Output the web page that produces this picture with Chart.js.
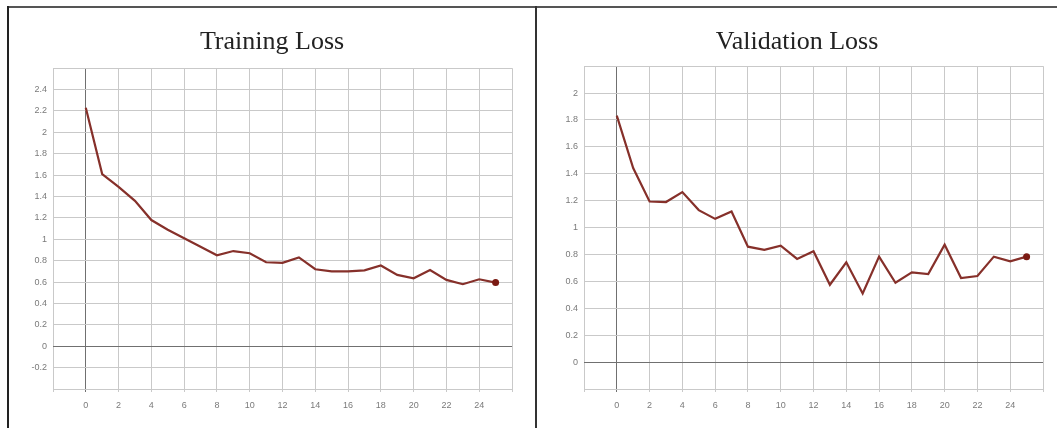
<!DOCTYPE html>
<html>
<head>
<meta charset="utf-8">
<script src="https://cdn.jsdelivr.net/npm/chart.js@4.4.1/dist/chart.umd.min.js"></script>
<style>
    html, body { margin: 0; padding: 0; background: #fff; }
    body { width: 1057px; height: 428px; position: relative; overflow: hidden; }
    .frame-top { position: absolute; left: 7px; top: 6px; width: 1050px; height: 2px; background: #555; }
    .frame-left { position: absolute; left: 7px; top: 6px; width: 2px; height: 422px; background: #222; }
    .frame-mid { position: absolute; left: 535px; top: 6px; width: 2px; height: 422px; background: #333; }
    .panel { position: absolute; top: 8px; height: 420px; }
    #panelTrain { left: 9px; width: 526px; }
    #panelVal { left: 537px; width: 520px; }
</style>
</head>
<body>
<div class="frame-top"></div>
<div class="frame-left"></div>
<div class="frame-mid"></div>
<div class="panel" id="panelTrain"><canvas id="trainChart"></canvas></div>
<div class="panel" id="panelVal"><canvas id="valChart"></canvas></div>

<script>
// --- data ---
const epochs = [0, 1, 2, 3, 4, 5, 6, 7, 8, 9, 10, 11, 12, 13, 14, 15, 16, 17, 18, 19, 20, 21, 22, 23, 24, 25];
const trainLoss = [2.23, 1.61, 1.49, 1.36, 1.18, 1.09, 1.01, 0.93, 0.85, 0.89, 0.87, 0.785, 0.78, 0.83, 0.72, 0.70, 0.70, 0.71, 0.755, 0.667, 0.635, 0.713, 0.62, 0.58, 0.626, 0.595];
const valLoss = [1.833, 1.443, 1.194, 1.19, 1.264, 1.13, 1.065, 1.12, 0.858, 0.834, 0.866, 0.767, 0.824, 0.575, 0.742, 0.51, 0.784, 0.59, 0.667, 0.655, 0.873, 0.625, 0.64, 0.784, 0.749, 0.784];
const xTicks = { min: -2, max: 26, step: 2 };
const trainYTicks = { min: -0.4, max: 2.6, step: 0.2 };
const valYTicks = { min: -0.2, max: 2.2, step: 0.2 };

const LINE_COLOR = '#86302a';
const GRID = '#c9c9c9';
const AXIS = '#707070';

function makeChart(id, title, values, yt, opts) {
    const points = epochs.map((e, i) => ({ x: e, y: values[i] }));
    const last = points.length - 1;
    return new Chart(document.getElementById(id).getContext('2d'), {
        type: 'line',
        data: {
            datasets: [{
                data: points,
                borderColor: LINE_COLOR,
                backgroundColor: '#7a1a12',
                borderWidth: 2.2,
                tension: 0,
                pointRadius: ctx => ctx.dataIndex === last ? 3.5 : 0,
                pointBorderWidth: 0
            }]
        },
        options: {
            responsive: true,
            maintainAspectRatio: false,
            animation: false,
            layout: { padding: 0 },
            plugins: {
                legend: { display: false },
                tooltip: { enabled: false },
                title: {
                    display: true,
                    text: title,
                    color: '#222',
                    font: { family: '"Liberation Serif", "DejaVu Serif", serif', size: 26, weight: 'normal' },
                    padding: { top: 19, bottom: opts.titleBottom }
                }
            },
            scales: {
                x: {
                    type: 'linear',
                    min: xTicks.min, max: xTicks.max,
                    border: { display: false },
                    grid: {
                        color: c => c.tick && c.tick.value === 0 ? AXIS : GRID,
                        lineWidth: 1,
                        tickLength: 3
                    },
                    ticks: {
                        stepSize: xTicks.step,
                        autoSkip: false,
                        maxRotation: 0,
                        padding: 8,
                        color: '#7a7a7a',
                        font: { family: '"Liberation Sans", Arial, sans-serif', size: 9 },
                        callback: v => (v === xTicks.min || v === xTicks.max) ? '' : String(v)
                    },
                    afterFit: s => { s.height = 39; }
                },
                y: {
                    min: yt.min, max: yt.max,
                    border: { display: false },
                    grid: {
                        color: c => c.tick && Math.abs(c.tick.value) < 1e-9 ? AXIS : GRID,
                        lineWidth: 1,
                        drawTicks: false
                    },
                    ticks: {
                        stepSize: yt.step,
                        autoSkip: false,
                        padding: 6,
                        color: '#7a7a7a',
                        font: { family: '"Liberation Sans", Arial, sans-serif', size: 9 },
                        callback: v => {
                            const r = Math.round(v * 10) / 10;
                            if (Math.abs(r - yt.min) < 1e-9 || Math.abs(r - yt.max) < 1e-9) return '';
                            return String(r);
                        }
                    },
                    afterFit: s => { s.width = opts.yWidth; }
                },
                // empty spacer on the right so the title stays centred on the panel
                yRight: {
                    position: 'right',
                    display: true,
                    min: yt.min, max: yt.max,
                    border: { display: false },
                    grid: { display: false },
                    ticks: { display: false },
                    afterFit: s => { s.width = opts.padRight; }
                }
            }
        }
    });
}

const charts = {};
charts.train = makeChart('trainChart', 'Training Loss', trainLoss, trainYTicks, { padRight: 23, yWidth: 44, titleBottom: 10 });
charts.val = makeChart('valChart', 'Validation Loss', valLoss, valYTicks, { padRight: 14, yWidth: 47, titleBottom: 8 });
</script>
</body>
</html>
